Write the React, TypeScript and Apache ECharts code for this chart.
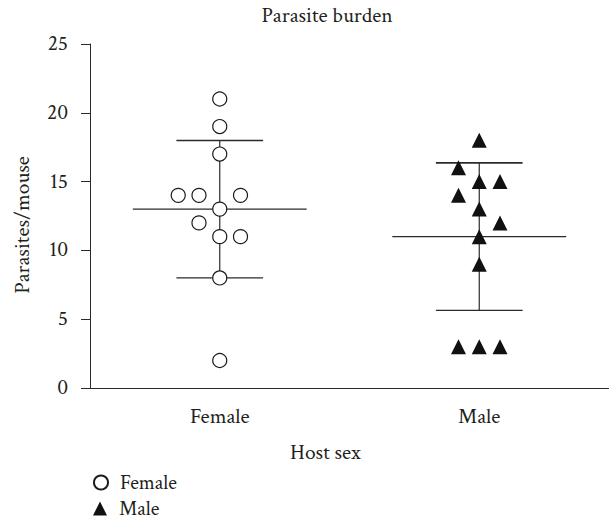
import React, { useEffect, useRef } from "react";
import * as echarts from "echarts";

const categories = ["Female", "Male"];
const yTicks = { min: 0, max: 25, interval: 5 };

const femaleValues = [21, 19, 17, 14, 14, 14, 13, 12, 11, 11, 8, 2];
const femaleJitter = [0, 0, 0, -0.16, -0.08, 0.08, 0, -0.08, 0, 0.08, 0, 0];
const maleValues = [18, 16, 15, 15, 14, 13, 12, 11, 9, 3, 3, 3];
const maleJitter = [0, -0.08, 0, 0.08, -0.08, 0, 0.08, 0, 0, -0.08, 0, 0.08];

const FONT = '"Crimson Text"';
const FS = 21.5;
const TEXT = "#231f20";
const LINE = "#2b2b2b";

function meanSd(v: number[]) {
  const m = v.reduce((a, b) => a + b, 0) / v.length;
  const s = Math.sqrt(v.reduce((a, b) => a + (b - m) * (b - m), 0) / (v.length - 1));
  return [m, s];
}

export default function App() {
  const ref = useRef<HTMLDivElement>(null);
  useEffect(() => {
    if (!ref.current) return;
    const chart = echarts.init(ref.current, undefined, { renderer: "svg" });
    const [fm, fs] = meanSd(femaleValues);
    const [mm, ms] = meanSd(maleValues);
    const summary = [
      [1, fm, fs],
      [2, mm, ms],
    ];
    const txt = { fontFamily: FONT, fontSize: FS, color: TEXT };
    const legendTxt = { fontFamily: FONT, fontSize: 20.5, color: TEXT, padding: [0, 0, 0, 7], lineHeight: 20 };
    chart.setOption({
      animation: false,
      backgroundColor: "#ffffff",
      textStyle: { fontFamily: FONT, color: TEXT },
      title: {
        text: "Parasite burden",
        left: 322,
        textAlign: "center",
        top: 0,
        textStyle: { ...txt, fontWeight: "normal" },
      },
      legend: [
        {
          data: ["Female"],
          left: 93,
          top: 472,
          padding: 0,
          itemWidth: 14,
          itemHeight: 14,
          itemGap: 5,
          textStyle: legendTxt,
        },
        {
          data: ["Male"],
          left: 93,
          top: 498,
          padding: 0,
          itemWidth: 14,
          itemHeight: 14,
          itemGap: 5,
          textStyle: legendTxt,
        },
      ],
      grid: { left: 90, top: 44, width: 519, height: 344, containLabel: false },
      xAxis: [
        {
          type: "category",
          data: categories,
          boundaryGap: true,
          name: "Host sex",
          nameLocation: "middle",
          nameGap: 54,
          nameTextStyle: { ...txt, padding: [0, 48, 0, 0] },
          axisLine: { lineStyle: { color: LINE, width: 1 } },
          axisTick: { alignWithLabel: true, length: 8, lineStyle: { color: LINE } },
          axisLabel: { ...txt, margin: 18 },
          splitLine: { show: false },
        },
        {
          type: "value",
          min: 0.5,
          max: 2.5,
          show: false,
          splitLine: { show: false },
        },
      ],
      yAxis: {
        type: "value",
        min: yTicks.min,
        max: yTicks.max,
        interval: yTicks.interval,
        name: "Parasites/mouse",
        nameLocation: "middle",
        nameGap: 56,
        nameTextStyle: { ...txt, padding: [0, 18, 0, 0] },
        axisLine: { show: true, lineStyle: { color: LINE, width: 1 } },
        axisTick: { show: true, length: 9, lineStyle: { color: LINE } },
        axisLabel: { ...txt, margin: 22 },
        splitLine: { show: false },
      },
      series: [
        {
          type: "custom",
          name: "summary",
          xAxisIndex: 1,
          data: summary,
          z: 1,
          renderItem: (params: any, api: any) => {
            const x = api.value(0);
            const m = api.value(1);
            const s = api.value(2);
            const meanHalf = 0.335;
            const capHalf = 0.167;
            const pTop = api.coord([x, m + s]);
            const pBot = api.coord([x, m - s]);
            const mL = api.coord([x - meanHalf, m]);
            const mR = api.coord([x + meanHalf, m]);
            const tL = api.coord([x - capHalf, m + s]);
            const tR = api.coord([x + capHalf, m + s]);
            const bL = api.coord([x - capHalf, m - s]);
            const bR = api.coord([x + capHalf, m - s]);
            const st = { stroke: LINE, lineWidth: 1.2 };
            return {
              type: "group",
              children: [
                { type: "line", shape: { x1: pTop[0], y1: pTop[1], x2: pBot[0], y2: pBot[1] }, style: st },
                { type: "line", shape: { x1: mL[0], y1: mL[1], x2: mR[0], y2: mR[1] }, style: st },
                { type: "line", shape: { x1: tL[0], y1: tL[1], x2: tR[0], y2: tR[1] }, style: { stroke: LINE, lineWidth: 1.6 } },
                { type: "line", shape: { x1: bL[0], y1: bL[1], x2: bR[0], y2: bR[1] }, style: st },
              ],
            };
          },
        },
        {
          type: "scatter",
          name: "Female",
          xAxisIndex: 1,
          symbol: "circle",
          symbolSize: 14,
          z: 3,
          itemStyle: { color: "#ffffff", borderColor: "#1a1a1a", borderWidth: 1.2, opacity: 1 },
          data: femaleValues.map((v, i) => [1 + femaleJitter[i], v]),
        },
        {
          type: "scatter",
          name: "Male",
          xAxisIndex: 1,
          symbol: "triangle",
          symbolSize: 15,
          z: 3,
          itemStyle: { color: "#111111", opacity: 1 },
          data: maleValues.map((v, i) => [2 + maleJitter[i], v]),
        },
      ],
    });
    return () => chart.dispose();
  }, []);
  return (
    <div
      ref={ref}
      style={{ position: "absolute", left: 0, top: 0, width: 609, height: 524, background: "#fff" }}
    />
  );
}
